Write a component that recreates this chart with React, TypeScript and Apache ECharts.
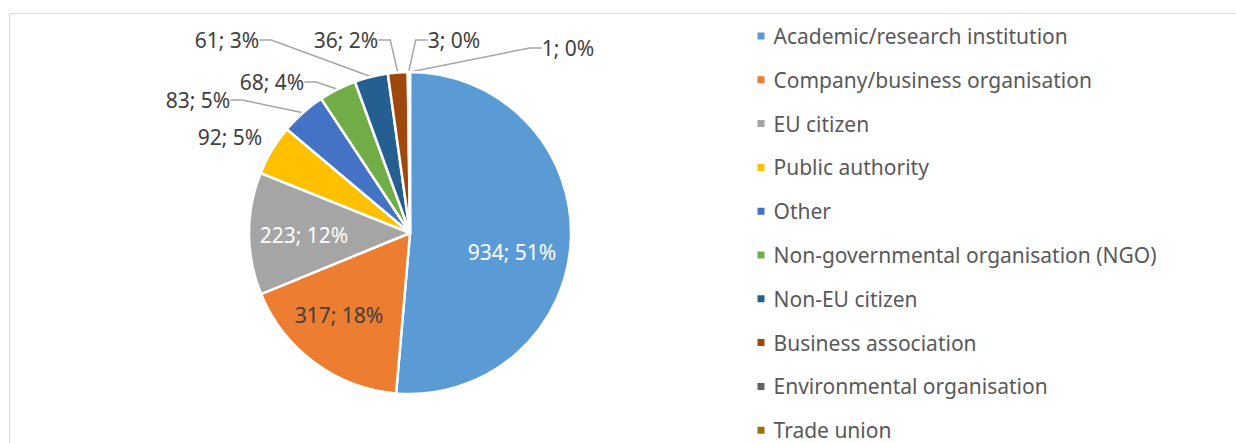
import React, { useEffect, useRef } from "react";
import * as echarts from "echarts";

const categories = [
  "Academic/research institution",
  "Company/business organisation",
  "EU citizen",
  "Public authority",
  "Other",
  "Non-governmental organisation (NGO)",
  "Non-EU citizen",
  "Business association",
  "Environmental organisation",
  "Trade union",
];
const values = [934, 317, 223, 92, 83, 68, 61, 36, 3, 1];
const percents = [51, 18, 12, 5, 5, 4, 3, 2, 0, 0];

// styling / layout (kept apart from the data)
const colors = ["#5B9BD5", "#ED7D31", "#A5A5A5", "#FFC000", "#4472C4", "#70AD47", "#255E91", "#9E480E", "#636363", "#997300"];
const insideLabelColors: Record<number, string> = { 0: "#ffffff", 1: "#404040", 2: "#ffffff" };
const noLineIdx = [3];
const labelPos: [number, number][] = [
  [512, 252],
  [339, 315],
  [304, 235],
  [230, 137],
  [198, 100],
  [272, 82],
  [227, 40],
  [346, 40],
  [454, 40],
  [568, 48],
];

const FONT = "Noto Sans";

export default function App() {
  const ref = useRef<HTMLDivElement>(null);
  useEffect(() => {
    if (!ref.current) return;
    const chart = echarts.init(ref.current, undefined, { renderer: "svg" });
    const data = categories.map((name, i) => {
      const inside = i in insideLabelColors;
      return {
        name,
        value: values[i],
        itemStyle: { color: colors[i] },
        label: inside
          ? { position: "inside", color: insideLabelColors[i] }
          : { position: "outside", color: "#404040" },
        labelLine: { show: !inside && noLineIdx.indexOf(i) < 0 },
      };
    });
    chart.setOption({
      animation: false,
      graphic: [
        {
          type: "rect",
          shape: { x: 9.5, y: 13.5, width: 1400, height: 600 },
          style: { fill: "none", stroke: "#d9d9d9", lineWidth: 1 },
          silent: true,
        },
      ],
      legend: {
        orient: "vertical",
        left: 755.5,
        top: 25,
        height: 430,
        padding: 0,
        icon: "rect",
        itemWidth: 9,
        itemHeight: 9,
        itemGap: 21.8,
        textStyle: { fontFamily: FONT, fontSize: 21, color: "#595959", lineHeight: 22, padding: [0, 0, 0, 3] },
        data: categories,
      },
      series: [
        {
          type: "pie",
          center: [410, 233],
          radius: 161,
          startAngle: 90,
          clockwise: true,
          itemStyle: { borderColor: "#ffffff", borderWidth: 2.5 },
          label: {
            fontFamily: FONT,
            fontSize: 21,
            formatter: (p: any) => `${p.value}; ${percents[p.dataIndex]}%`,
          },
          labelLine: { length: 15, length2: 12, lineStyle: { color: "#a6a6a6", width: 1.5 } },
          labelLayout: (p: any) => {
            const pos = labelPos[p.dataIndex];
            return { x: pos[0], y: pos[1], align: "center", verticalAlign: "middle" };
          },
          data,
        },
      ],
    });
    return () => chart.dispose();
  }, []);
  return <div ref={ref} style={{ position: "absolute", left: 0, top: 0, width: 1236, height: 443 }} />;
}
